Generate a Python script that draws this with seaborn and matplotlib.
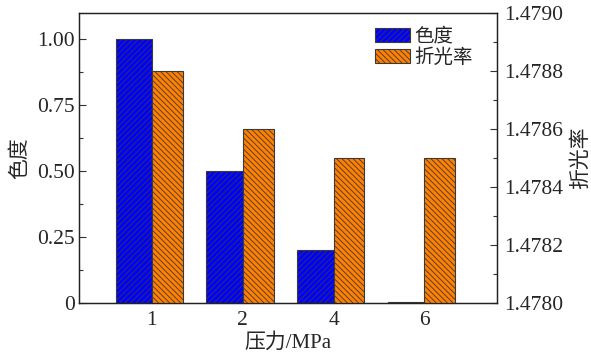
import matplotlib
matplotlib.use("Agg")
import matplotlib.pyplot as plt
import seaborn as sns
from matplotlib.patches import Patch
from matplotlib.ticker import FormatStrFormatter, MultipleLocator

# data
pressure = ['1', '2', '4', '6']
chroma = [1.00, 0.50, 0.20, 0.005]
refractive = [1.4788, 1.4786, 1.4785, 1.4785]

sns.set_style("ticks")
plt.rcParams['font.family'] = ['Liberation Serif', 'Noto Sans CJK SC']
plt.rcParams['hatch.linewidth'] = 0.6
plt.rcParams['axes.unicode_minus'] = False

blue = '#0000ff'
orange = '#ff8000'
edge = '#3a3a3a'

fig, ax1 = plt.subplots(figsize=(5.91, 3.53), dpi=100)
fig.subplots_adjust(left=0.134, right=0.841, bottom=0.142, top=0.963)
ax2 = ax1.twinx()

sns.barplot(x=pressure, y=chroma, ax=ax1, color=blue, saturation=1,
            width=0.4, edgecolor=edge, linewidth=0.8, hatch='//////')
for p in ax1.patches:
    p.set_x(p.get_x() - 0.2)

sns.barplot(x=pressure, y=refractive, ax=ax2, color=orange, saturation=1,
            width=0.34, edgecolor=edge, linewidth=0.8, hatch='\\\\\\\\\\\\')
for p in ax2.patches:
    p.set_x(p.get_x() + 0.17)

ax1.set_xlim(-0.8, 3.8)
ax1.set_ylim(0, 1.1)
ax2.set_ylim(1.4780, 1.4790)

ax1.set_yticks([0, 0.25, 0.5, 0.75, 1.0])
ax1.set_yticklabels(['0', '0.25', '0.50', '0.75', '1.00'])
ax1.yaxis.set_minor_locator(MultipleLocator(0.125))
ax2.yaxis.set_major_locator(MultipleLocator(0.0002))
ax2.yaxis.set_minor_locator(MultipleLocator(0.0001))
ax2.yaxis.set_major_formatter(FormatStrFormatter('%.4f'))

for ax in (ax1, ax2):
    ax.tick_params(axis='y', which='major', direction='in', length=5, width=0.8,
                   labelsize=15.5, color='#333333')
    ax.tick_params(axis='y', which='minor', direction='in', length=3, width=0.8,
                   color='#333333')
    ax.tick_params(axis='x', length=0, labelsize=15.5, pad=6)
    for s in ax.spines.values():
        s.set_visible(True)
        s.set_linewidth(0.9)
        s.set_color('#222222')
    ax.set_xlabel('')
ax1.tick_params(axis='y', pad=3)
ax2.tick_params(axis='y', pad=5)

ax1.set_xlabel('压力/MPa', fontsize=15, labelpad=2)
ax1.set_ylabel('色度', fontsize=15, labelpad=5)
ax2.set_ylabel('折光率', fontsize=15, labelpad=6)

handles = [Patch(facecolor=blue, edgecolor=edge, hatch='//////', linewidth=0.8),
           Patch(facecolor=orange, edgecolor=edge, hatch='\\\\\\\\\\\\', linewidth=0.8)]
ax2.legend(handles, ['色度', '折光率'], loc='upper left', bbox_to_anchor=(0.68, 0.99),
           frameon=False, fontsize=14, handlelength=1.8, handleheight=0.75,
           handletextpad=0.2, labelspacing=0.15, borderaxespad=0.2)

fig.savefig('out.png', dpi=100)
